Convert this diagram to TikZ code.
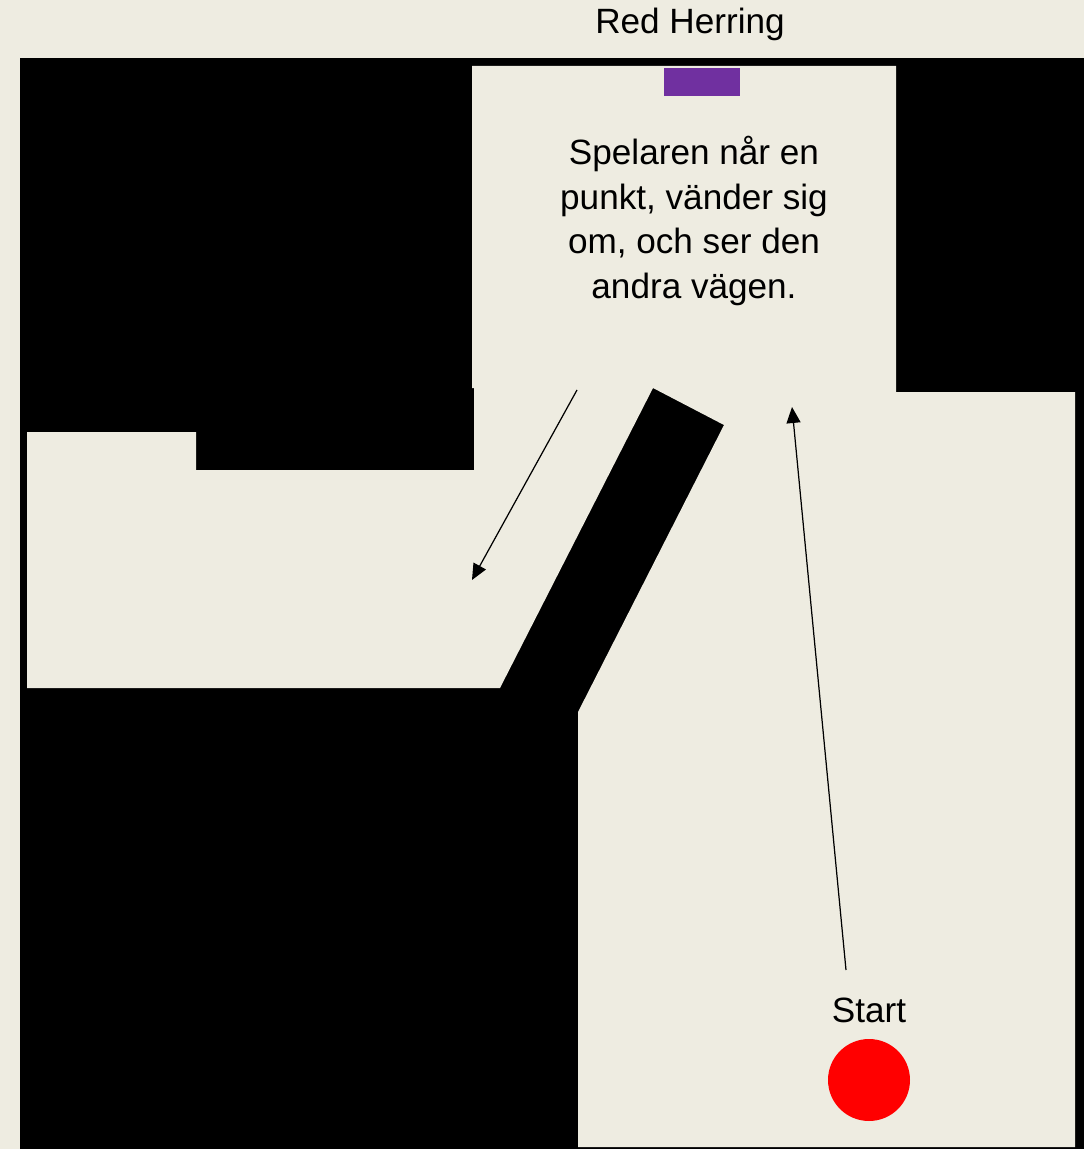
\documentclass[tikz,border=0pt]{standalone}
\usepackage{fontspec}
\setmainfont{Liberation Sans}
\usetikzlibrary{arrows.meta}
\definecolor{bgbeige}{HTML}{EEECE1}
\definecolor{rhpurple}{HTML}{7030A0}
\definecolor{rhred}{HTML}{FF0000}

\begin{document}
\begin{tikzpicture}[x=0.02cm,y=-0.02cm,>={Triangle[length=3.2mm,width=2.8mm]},
  lbl/.style={font=\fontsize{20}{25.5}\selectfont,align=center,inner sep=0pt},
  arr/.style={->,line width=0.7pt}]
% BACKGROUND AND WALLS
\fill[bgbeige] (0,0) rectangle (1084,1149);
\useasboundingbox (0,0) rectangle (1084,1149);
\fill[black] (20,58) rectangle (1084,1149);
\fill[bgbeige] (472,66) -- (896,66) -- (896,392) -- (1075,392) -- (1075,1147)
  -- (578,1147) -- (578,712) -- (724,425) -- (653,388) -- (500,688)
  -- (27,688) -- (27,432) -- (196,432) -- (196,470) -- (474,470)
  -- (474,388) -- (472,388) -- cycle;
% LABELS
\node[lbl] (title) at (690,24) {Red Herring};
\node[fill=rhpurple,minimum width=1.52cm,minimum height=0.56cm,inner sep=0pt] (herring) at (702,82) {};
\node[lbl] (note) at (694,221) {Spelaren når en\\punkt, vänder sig\\om, och ser den\\andra vägen.};
\node[lbl] (start) at (869,1010) {Start};
\node[circle,fill=rhred,minimum size=1.64cm,inner sep=0pt] (player) at (869,1080) {};
% PATHS
\coordinate (turn) at (577,390);
\coordinate (back) at (472,580);
\coordinate (walk) at (846,970);
\coordinate (goal) at (792,407);
\draw[arr] (turn) -- (back);
\draw[arr] (walk) -- (goal);
\end{tikzpicture}
\end{document}
